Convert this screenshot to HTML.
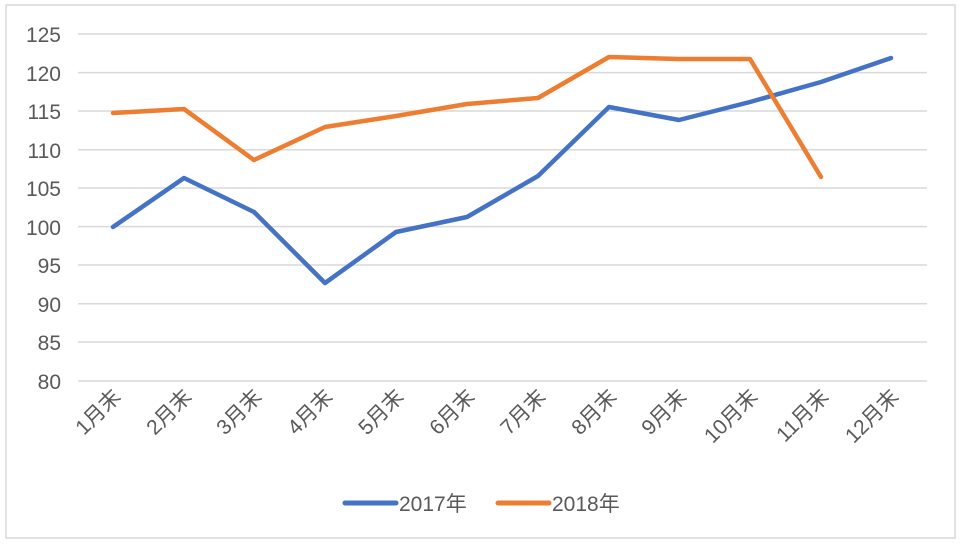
<!DOCTYPE html>
<html><head><meta charset="utf-8"><style>
html,body{margin:0;padding:0;background:#fff;}
text{font-family:"Liberation Sans","Noto Sans CJK SC",sans-serif;fill:#595959;}
</style></head><body>
<svg width="961" height="547" viewBox="0 0 961 547" xmlns="http://www.w3.org/2000/svg">
<rect x="6" y="5" width="949" height="533" fill="#fff" stroke="#d9d9d9" stroke-width="1.5"/>
<g stroke="#d9d9d9" stroke-width="1.5">
<line x1="78" x2="927" y1="34" y2="34"/><line x1="78" x2="927" y1="72.6" y2="72.6"/>
<line x1="78" x2="927" y1="111" y2="111"/><line x1="78" x2="927" y1="149.7" y2="149.7"/>
<line x1="78" x2="927" y1="188" y2="188"/><line x1="78" x2="927" y1="226.6" y2="226.6"/>
<line x1="78" x2="927" y1="265" y2="265"/><line x1="78" x2="927" y1="303.8" y2="303.8"/>
<line x1="78" x2="927" y1="342" y2="342"/><line x1="78" x2="927" y1="381" y2="381"/>
</g>
<g font-size="21" text-anchor="end">
<text x="61" y="42">125</text><text x="61" y="81">120</text><text x="61" y="119">115</text>
<text x="61" y="158">110</text><text x="61" y="196">105</text><text x="61" y="235">100</text>
<text x="61" y="273">95</text><text x="61" y="312">90</text><text x="61" y="350">85</text><text x="61" y="389">80</text>
</g>
<g font-size="21" text-anchor="end">
<text transform="translate(122,398) rotate(-45)">1月末</text>
<text transform="translate(193,398) rotate(-45)">2月末</text>
<text transform="translate(263,398) rotate(-45)">3月末</text>
<text transform="translate(334,398) rotate(-45)">4月末</text>
<text transform="translate(405,398) rotate(-45)">5月末</text>
<text transform="translate(476,398) rotate(-45)">6月末</text>
<text transform="translate(547,398) rotate(-45)">7月末</text>
<text transform="translate(618,398) rotate(-45)">8月末</text>
<text transform="translate(688,398) rotate(-45)">9月末</text>
<text transform="translate(759,398) rotate(-45)">10月末</text>
<text transform="translate(830,398) rotate(-45)">11月末</text>
<text transform="translate(900,398) rotate(-45)">12月末</text>
</g>
<polyline fill="none" stroke="#4472c4" stroke-width="4.5" stroke-linejoin="round" stroke-linecap="round"
points="113,227 184,178 254,212 325,283 396,232 467,217 538,176 609,107 679,120 750,102 821,82 891,58"/>
<polyline fill="none" stroke="#ed7d31" stroke-width="4.5" stroke-linejoin="round" stroke-linecap="round"
points="113,113 184,109 254,160 325,127 396,116 467,104 538,98 609,57 679,59 750,59 821,177"/>
<line x1="345" x2="396" y1="503" y2="503" stroke="#4472c4" stroke-width="5" stroke-linecap="round"/>
<text x="399" y="511" font-size="21">2017年</text>
<line x1="498" x2="549" y1="503" y2="503" stroke="#ed7d31" stroke-width="5" stroke-linecap="round"/>
<text x="552" y="511" font-size="21">2018年</text>
</svg>
</body></html>
